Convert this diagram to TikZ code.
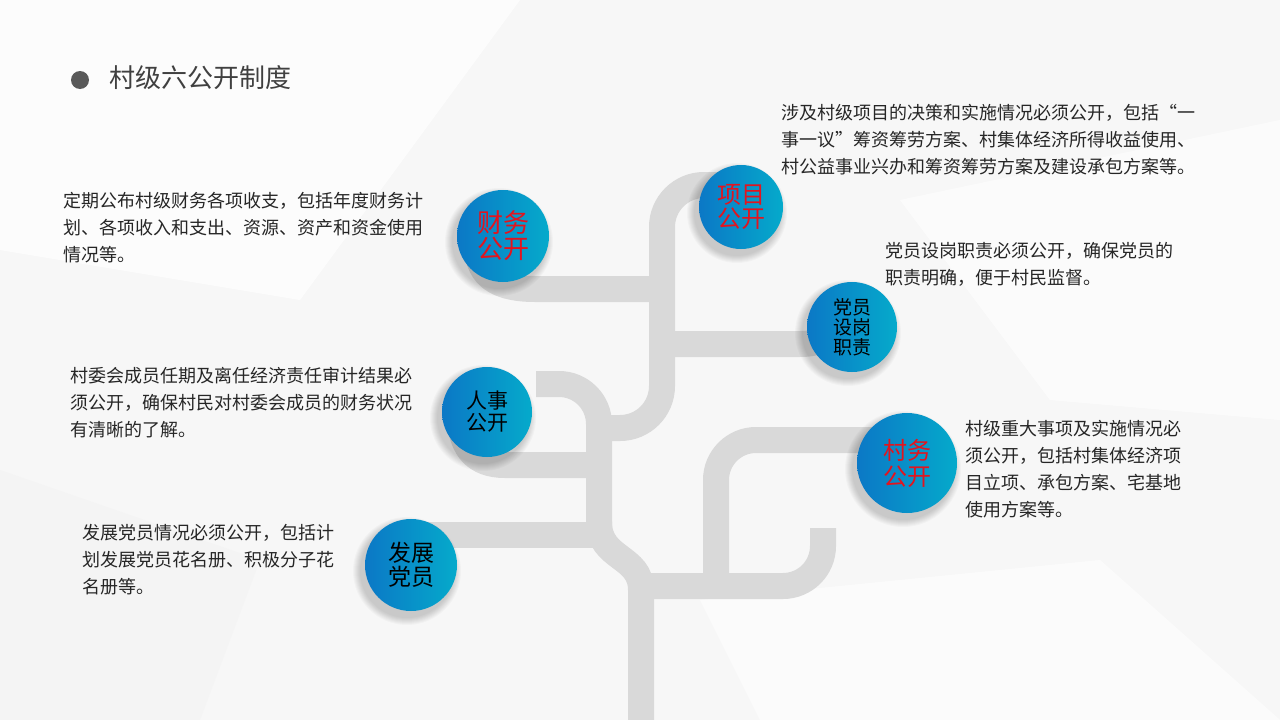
\documentclass[tikz,border=0pt]{standalone}
\usepackage{fontspec}
\setmainfont{Noto Sans CJK SC}
\definecolor{band}{HTML}{D9D9D9}
\definecolor{cA}{HTML}{0B78C6}
\definecolor{cB}{HTML}{05AACB}
\definecolor{redt}{HTML}{E3141E}
\definecolor{txt}{HTML}{262626}
\tikzset{
 br/.style={draw=band,line width=26pt},
 circ/.style={circle,minimum size=#1,left color=cA,right color=cB,shading angle=90,inner sep=0pt,align=center,font=\fontsize{21}{25}\selectfont,text=black},
 redc/.style={text=redt,font=\fontsize{24}{28}\selectfont},
 desc/.style={anchor=north west,align=left,inner sep=0pt,font=\fontsize{18}{27}\selectfont,text=txt},
}
\begin{document}
\begin{tikzpicture}[x=1pt,y=-1pt]
\useasboundingbox (0,0) rectangle (1280,720);
\fill[gray!6] (0,0) rectangle (1280,720);
\fill[white,opacity=.7] (0,0) -- (520,0) -- (300,300) -- (0,250) -- cycle;
\fill[white,opacity=.6] (900,200) -- (1280,120) -- (1280,420) -- (1050,400) -- cycle;
\fill[gray!10,opacity=.6] (0,470) -- (260,560) -- (200,720) -- (0,720) -- cycle;
\fill[white,opacity=.6] (700,600) -- (1100,560) -- (1280,720) -- (760,720) -- cycle;
% title
\fill[black!65] (80,80) circle (9);
\node[anchor=west,font=\fontsize{26}{30}\selectfont,text=black!75] (title) at (106,78) {村级六公开制度};
% branches
\draw[br] (641,720) -- (641,590) .. controls (641,555) and (599,560) .. (599,522);
\draw[br,rounded corners=40] (599,530) -- (599,384) -- (536,384);
\draw[br] (599,465) -- (505,465) .. controls (475,465) and (462,448) .. (460,420);
\draw[br] (599,535) -- (420,535);
\draw[br,rounded corners=42] (599,428) -- (662,428) -- (662,185) -- (735,185);
\draw[br] (662,289) -- (535,289) .. controls (500,289) and (482,278) .. (478,255);
\draw[br] (662,344) -- (800,344) .. controls (820,344) and (830,337) .. (836,325);
\draw[br,rounded corners=40] (641,586) -- (823,586) -- (823,528);
\draw[br,rounded corners=40] (716,586) -- (716,440) -- (900,440);
% circles (soft shadows)
\foreach \p/\r in {{741,207}/42,{852,327}/45,{907,463}/50,{503,236}/46,{487,412}/45,{411,565}/46}
  \foreach \k in {1,...,8}
    \fill[black,opacity=.025] ([shift={(-4,6)}]\p) circle (\r+\k);
\node[circ=84pt,redc] (xm) at (741,207) {项目\\[-4pt]公开};
\node[circ=90pt,font=\fontsize{19}{22}\selectfont] (dy) at (852,327) {党员\\[-2pt]设岗\\[-2pt]职责};
\node[circ=100pt,redc] (cw) at (907,463) {村务\\[-2pt]公开};
\node[circ=92pt,redc,font=\fontsize{26}{30}\selectfont] (cwu) at (503,236) {财务\\[-4pt]公开};
\node[circ=90pt] (rs) at (487,412) {人事\\[-3pt]公开};
\node[circ=92pt,font=\fontsize{23}{27}\selectfont] (fz) at (411,565) {发展\\[-3pt]党员};
% texts
\node[desc] (t1) at (781,104) {涉及村级项目的决策和实施情况必须公开，包括“一\\事一议”筹资筹劳方案、村集体经济所得收益使用、\\村公益事业兴办和筹资筹劳方案及建设承包方案等。};
\node[desc] (t2) at (885,242) {党员设岗职责必须公开，确保党员的\\职责明确，便于村民监督。};
\node[desc] (t3) at (965,420) {村级重大事项及实施情况必\\须公开，包括村集体经济项\\目立项、承包方案、宅基地\\使用方案等。};
\node[desc] (t4) at (63,192) {定期公布村级财务各项收支，包括年度财务计\\划、各项收入和支出、资源、资产和资金使用\\情况等。};
\node[desc] (t5) at (70,367) {村委会成员任期及离任经济责任审计结果必\\须公开，确保村民对村委会成员的财务状况\\有清晰的了解。};
\node[desc] (t6) at (82,524) {发展党员情况必须公开，包括计\\划发展党员花名册、积极分子花\\名册等。};
\end{tikzpicture}
\end{document}
